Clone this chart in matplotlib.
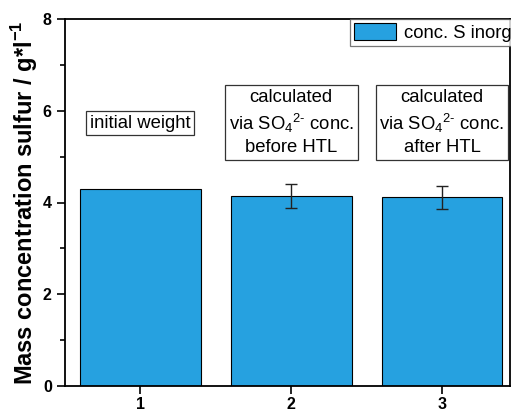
import matplotlib
matplotlib.use("Agg")
import matplotlib.pyplot as plt
from matplotlib.ticker import MultipleLocator

plt.rcParams['font.family'] = ['Liberation Sans', 'DejaVu Sans']
plt.rcParams['mathtext.fontset'] = 'custom'
plt.rcParams['mathtext.rm'] = 'Liberation Sans'
plt.rcParams['mathtext.bf'] = 'Liberation Sans:bold'

categories = [1, 2, 3]
values = [4.30, 4.15, 4.11]
errors = [0.0, 0.26, 0.26]
labels = ["initial weight",
          "calculated\nvia SO$_4$$^{2\\text{-}}$ conc.\nbefore HTL",
          "calculated\nvia SO$_4$$^{2\\text{-}}$ conc.\nafter HTL"]
label_y = [5.73, 5.75, 5.75]
xtick_labels = ["1", "2", "3"]

fig = plt.figure(figsize=(5.11, 4.13), dpi=100)
ax = fig.add_axes([65/511, 27/413, (510-65)/511, (386-19)/413])

bars = ax.bar(categories, values, width=0.8, color='#26A1E0', edgecolor='black',
              linewidth=0.8, label='conc. S inorg', zorder=2)
ax.errorbar(categories[1:], values[1:], yerr=errors[1:], fmt='none', ecolor='#222222',
            elinewidth=1.0, capsize=4, capthick=1.0, zorder=3)

for x, y, t in zip(categories, label_y, labels):
    ax.text(x, y, t, ha='center', va='center', fontsize=13.3, linespacing=1.33,
            bbox=dict(boxstyle='square,pad=0.2', facecolor='white', edgecolor='#333333', linewidth=0.9))

ax.set_xlim(0.5, 3.45)
ax.set_ylim(0, 8)
ax.set_xticks(categories)
ax.set_xticklabels(xtick_labels, fontweight='bold', fontsize=11.5)
ax.yaxis.set_major_locator(MultipleLocator(2))
ax.yaxis.set_minor_locator(MultipleLocator(1))
for lab in ax.get_yticklabels():
    lab.set_fontweight('bold')
    lab.set_fontsize(11.5)
ax.tick_params(axis='both', which='major', direction='out', length=6, width=1.2)
ax.tick_params(axis='x', which='major', pad=2)
ax.tick_params(axis='y', which='minor', direction='out', length=3.5, width=1.2)
for s in ax.spines.values():
    s.set_linewidth(1.3)

ax.set_ylabel("Mass concentration sulfur / g*l$^{\\mathbf{-1}}$", fontsize=17, fontweight='bold', labelpad=2)

leg = ax.legend(loc='upper left', bbox_to_anchor=((350-65)/445, 1.0), fontsize=13.3, frameon=True,
                fancybox=False, edgecolor='#555555', borderaxespad=0.0, handlelength=2.3,
                handleheight=1.1, borderpad=0.2, handletextpad=0.4)
leg.get_frame().set_linewidth(0.9)

fig.savefig("out.png", dpi=100)
